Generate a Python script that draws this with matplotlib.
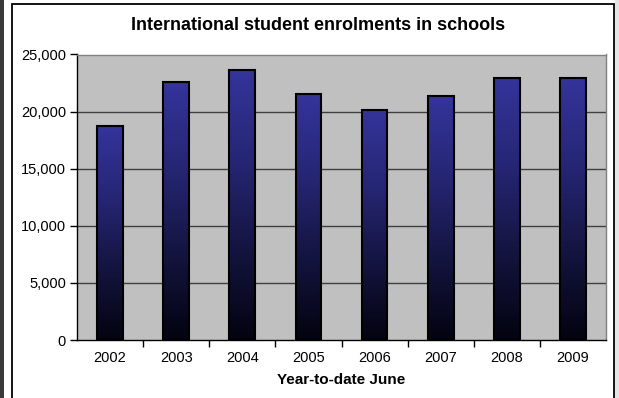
import numpy as np
import matplotlib
matplotlib.use("Agg")
import matplotlib.pyplot as plt
from matplotlib.colors import LinearSegmentedColormap
from matplotlib.patches import Rectangle
from matplotlib.ticker import FuncFormatter, MultipleLocator, FixedLocator

years = ["2002", "2003", "2004", "2005", "2006", "2007", "2008", "2009"]
enrolments = [18750, 22550, 23600, 21500, 20150, 21400, 22950, 22950]
title = "International student enrolments in schools"
xlabel = "Year-to-date June"

plt.rcParams["font.family"] = ["Liberation Sans", "DejaVu Sans"]

fig = plt.figure(figsize=(6.19, 3.98), dpi=100)

# outer chart frame, the dark strip along the left edge and the pale strip on the right
fig.patches.append(Rectangle((0, 0), 4 / 619, 1, transform=fig.transFigure,
                             facecolor="#3a3a3a", edgecolor="none", zorder=-2))
fig.patches.append(Rectangle((615 / 619, 0), 4 / 619, 1, transform=fig.transFigure,
                             facecolor="#e4e4e4", edgecolor="none", zorder=-2))
fig.patches.append(Rectangle((11.5 / 619, -0.01), (614 - 11.5) / 619, 1 - 3.5 / 398 + 0.01,
                             transform=fig.transFigure, facecolor="white",
                             edgecolor="black", linewidth=1.3, zorder=-1))

ax = fig.add_axes([77 / 619, 1 - 340 / 398, (606 - 77) / 619, (340 - 54.5) / 398])
ax.set_zorder(2)
ax.set_facecolor("#c0c0c0")

# horizontal gridlines
for v in range(5000, 25001, 5000):
    ax.axhline(v, color="#404040", linewidth=1.0, zorder=1)

cmap = LinearSegmentedColormap.from_list("barfill", ["#030310", "#141440", "#262675", "#34349b"])
grad = np.linspace(0, 1, 256).reshape(-1, 1)
width = 0.39
for i, val in enumerate(enrolments):
    x0 = i - width / 2
    ax.imshow(grad, cmap=cmap, origin="lower", aspect="auto",
              extent=(x0, x0 + width, 0, val), zorder=2, interpolation="bilinear")
    ax.add_patch(Rectangle((x0, 0), width, val, facecolor="none",
                           edgecolor="black", linewidth=1.5, zorder=3))

ax.set_xlim(-0.5, len(years) - 0.5)
ax.set_ylim(0, 25000)

for side in ["top", "right"]:
    ax.spines[side].set_color("#808080")
    ax.spines[side].set_linewidth(1.0)
for side in ["left", "bottom"]:
    ax.spines[side].set_color("black")
    ax.spines[side].set_linewidth(1.0)

ax.yaxis.set_major_locator(MultipleLocator(5000))
ax.yaxis.set_major_formatter(FuncFormatter(lambda v, p: f"{int(v):,}"))
ax.tick_params(axis="y", direction="out", length=5, width=1, labelsize=10.5, pad=3)

ax.set_xticks(range(len(years)))
ax.set_xticklabels(years)
ax.tick_params(axis="x", which="major", length=0, labelsize=10.5, pad=8)
ax.xaxis.set_minor_locator(FixedLocator(np.arange(0.5, len(years) - 0.5, 1)))
ax.tick_params(axis="x", which="minor", direction="out", length=5, width=1)

ax.set_xlabel(xlabel, fontsize=11, fontweight="bold", labelpad=6)
fig.text(318 / 619, 1 - 25 / 398, title, ha="center", va="center",
         fontsize=13, fontweight="bold")

fig.savefig("out.png", dpi=100)
